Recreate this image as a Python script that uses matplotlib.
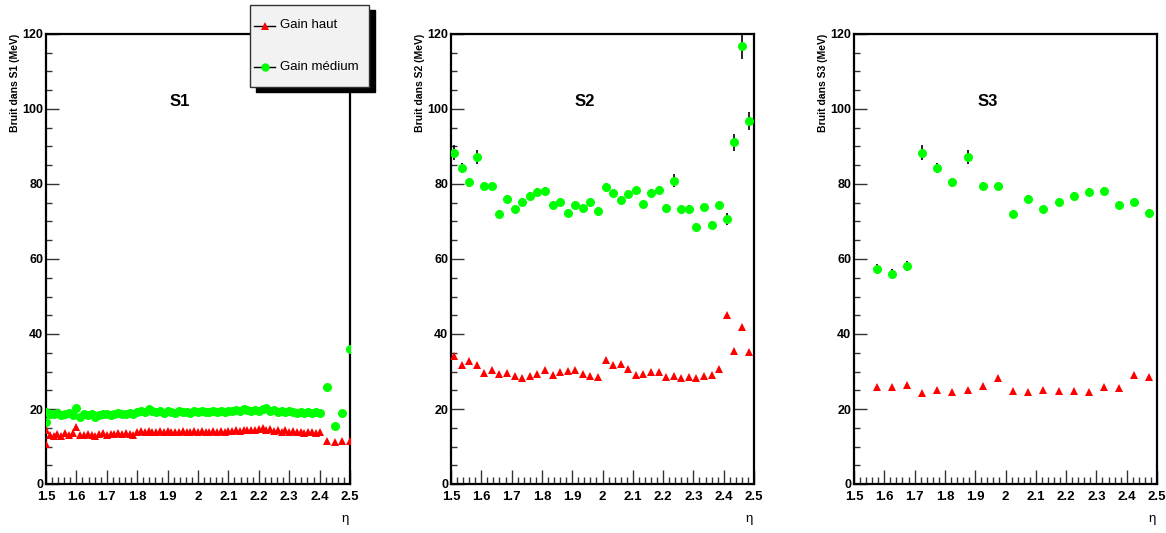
import matplotlib
matplotlib.use("Agg")
import matplotlib.pyplot as plt
from matplotlib.lines import Line2D
from matplotlib.patches import Rectangle
from matplotlib.ticker import MultipleLocator, FormatStrFormatter

plt.rcParams["font.family"] = ["Liberation Sans", "DejaVu Sans"]

# --- S1 : fine eta binning (first entry is the extra point at eta=1.5) ---
S1_ETA = [1.5,
          1.5, 1.5125, 1.525, 1.5375, 1.55, 1.5625, 1.575, 1.5875, 1.6, 1.6125,
          1.625, 1.6375, 1.65, 1.6625, 1.675, 1.6875, 1.7, 1.7125, 1.725, 1.7375,
          1.75, 1.7625, 1.775, 1.7875, 1.8, 1.8125, 1.825, 1.8375, 1.85, 1.8625,
          1.875, 1.8875, 1.9, 1.9125, 1.925, 1.9375, 1.95, 1.9625, 1.975, 1.9875,
          2.0, 2.0125, 2.025, 2.0375, 2.05, 2.0625, 2.075, 2.0875, 2.1, 2.1125,
          2.125, 2.1375, 2.15, 2.1625, 2.175, 2.1875, 2.2, 2.2125, 2.225, 2.2375,
          2.25, 2.2625, 2.275, 2.2875, 2.3, 2.3125, 2.325, 2.3375, 2.35, 2.3625,
          2.375, 2.3875, 2.4,
          2.425, 2.45, 2.475, 2.5]
S1_HAUT = [10.6,
           14.5, 13.2, 12.8, 13.4, 12.9, 13.5, 13.1, 13.6, 15.3, 13.2,
           13.0, 13.4, 13.1, 12.9, 13.3, 13.5, 13.2, 13.4, 13.3, 13.6,
           13.3, 13.5, 13.4, 13.2, 13.9, 14.1, 13.8, 14.2, 14.0, 13.9,
           14.2, 13.8, 14.1, 13.9, 14.0, 13.8, 14.1, 14.0, 13.9, 14.2,
           14.0, 14.1, 13.9, 14.0, 14.2, 13.9, 14.1, 14.0, 14.2, 14.1,
           14.3, 14.2, 14.4, 14.3, 14.5, 14.4, 14.6, 14.9, 14.5, 14.7,
           14.2, 14.4, 14.0, 14.3, 13.9, 14.1, 13.8, 13.9, 13.7, 13.9,
           13.8, 13.6, 13.8,
           11.5, 11.3, 11.5, 11.6]
S1_MED = [16.5,
          19.2, 18.8, 18.6, 18.9, 18.5, 18.8, 19.0, 18.4, 20.3, 17.9,
          18.6, 18.3, 18.7, 17.9, 18.4, 18.6, 18.8, 18.5, 18.7, 18.9,
          18.6, 18.8, 19.0, 18.7, 19.2, 19.4, 19.1, 20.1, 19.6, 19.3,
          19.5, 19.0, 19.4, 19.2, 18.9, 19.5, 19.1, 19.3, 19.0, 19.4,
          19.2, 19.6, 19.3, 19.1, 19.4, 19.2, 19.5, 19.3, 19.6, 19.4,
          19.8, 19.5, 20.1, 19.7, 19.5, 19.8, 19.6, 19.9, 20.2, 19.6,
          19.8, 19.3, 19.5, 19.2, 19.6, 19.1, 19.0, 19.3, 18.9, 19.2,
          19.0, 19.1, 18.9,
          26.0, 15.6, 18.9, 36.0]

# --- S2 ---
S2_ETA = [1.51, 1.535, 1.56, 1.585, 1.61, 1.635, 1.66, 1.685, 1.71, 1.735,
          1.76, 1.785, 1.81, 1.835, 1.86, 1.885, 1.91, 1.935, 1.96, 1.985,
          2.01, 2.035, 2.06, 2.085, 2.11, 2.135, 2.16, 2.185, 2.21, 2.235,
          2.26, 2.285, 2.31, 2.335, 2.36, 2.385, 2.41, 2.435, 2.46, 2.485]
S2_HAUT = [34.2, 31.8, 32.7, 31.8, 29.6, 30.4, 29.4, 29.6, 28.8, 28.4,
           28.9, 29.4, 30.4, 29.0, 29.8, 30.1, 30.3, 29.4, 28.8, 28.6,
           33.1, 31.8, 32.0, 30.6, 29.2, 29.4, 29.8, 29.8, 28.6, 28.8,
           28.3, 28.6, 28.2, 28.7, 29.2, 30.7, 45.1, 35.6, 42.0, 35.3]
S2_MED = [88.3, 84.3, 80.4, 87.2, 79.4, 79.4, 72.1, 76.1, 73.2, 75.3,
          76.8, 77.9, 78.2, 74.5, 75.3, 72.3, 74.4, 73.6, 75.3, 72.9,
          79.3, 77.5, 75.7, 77.3, 78.3, 74.6, 77.6, 78.5, 73.6, 80.9,
          73.2, 73.4, 68.5, 73.8, 69.0, 74.5, 70.6, 91.1, 116.7, 96.7]
S2_MED_ERR = [2.0, 1.3, 1.2, 1.8, 1.0, 1.0, 1.0, 1.0, 1.0, 1.0,
              1.0, 1.0, 1.0, 1.0, 1.0, 1.0, 1.0, 1.0, 1.0, 1.0,
              1.0, 1.0, 1.0, 1.0, 1.0, 1.0, 1.0, 1.0, 1.0, 1.7,
              1.0, 1.0, 1.0, 1.0, 1.0, 1.0, 1.6, 2.3, 3.5, 2.4]

# --- S3 ---
S3_ETA = [1.575, 1.625, 1.675, 1.725, 1.775, 1.825, 1.875, 1.925, 1.975, 2.025,
          2.075, 2.125, 2.175, 2.225, 2.275, 2.325, 2.375, 2.425, 2.475]
S3_HAUT = [26.0, 25.8, 26.3, 24.2, 25.0, 24.6, 25.0, 26.1, 28.2, 24.7,
           24.5, 25.0, 24.7, 24.8, 24.6, 25.9, 25.6, 29.2, 28.5]
S3_MED = [57.4, 56.0, 58.2, 88.3, 84.3, 80.4, 87.2, 79.4, 79.4, 72.1,
          76.1, 73.2, 75.3, 76.8, 77.9, 78.2, 74.5, 75.3, 72.3]
S3_MED_ERR = [1.3, 1.3, 1.3, 2.0, 1.3, 1.2, 1.8, 1.0, 1.0, 1.0,
              1.0, 1.0, 1.0, 1.0, 1.0, 1.0, 1.0, 1.0, 1.0]

RED = "#ff0000"
GREEN = "#00ff00"
W, H = 1166, 533


def px_rect(x0, y0, x1, y1):
    # pixel box (top-left origin) -> figure fraction [left, bottom, w, h]
    return [x0 / W, 1 - y1 / H, (x1 - x0) / W, (y1 - y0) / H]


def style(ax, name):
    ax.set_xlim(1.5, 2.5)
    ax.set_ylim(0, 120)
    ax.xaxis.set_major_locator(MultipleLocator(0.1))
    ax.xaxis.set_minor_locator(MultipleLocator(0.02))
    ax.yaxis.set_major_locator(MultipleLocator(20))
    ax.yaxis.set_minor_locator(MultipleLocator(5))
    ax.xaxis.set_major_formatter(FormatStrFormatter("%g"))
    ax.tick_params(which="both", direction="in", top=False, right=False,
                   color="#333333", width=1.0)
    ax.tick_params(axis="x", which="major", length=10, pad=5)
    ax.tick_params(axis="x", which="minor", length=5)
    ax.tick_params(axis="y", which="major", length=9, pad=2)
    ax.tick_params(axis="y", which="minor", length=4.5)
    for lab in ax.get_xticklabels():
        lab.set_fontweight("bold")
        lab.set_fontsize(9.5)
    for lab in ax.get_yticklabels():
        lab.set_fontweight("bold")
        lab.set_fontsize(9)
    for sp in ax.spines.values():
        sp.set_linewidth(1.6)
    ax.set_ylabel(f"Bruit dans {name} (MeV)", fontsize=7.5, fontweight="bold",
                  loc="top")
    ax.yaxis.set_label_coords(-0.085, 1.0)
    ax.set_xlabel("η", fontsize=9.5, loc="right")
    ax.xaxis.set_label_coords(0.995, -0.065)
    ax.text(0.44, 0.85, name, transform=ax.transAxes, fontsize=12,
            fontweight="bold", ha="center", va="center")


fig = plt.figure(figsize=(W / 100, H / 100), dpi=100)
ax1 = fig.add_axes(px_rect(46, 34, 350, 484))
ax2 = fig.add_axes(px_rect(451, 34, 754, 484))
ax3 = fig.add_axes(px_rect(854, 34, 1157, 484))

ms_tri, ms_dot = 6, 6.5
ax1.plot(S1_ETA, S1_HAUT, "^", color=RED, ms=ms_tri, mew=0, zorder=3)
ax1.plot(S1_ETA, S1_MED, "o", color=GREEN, ms=ms_dot, mew=0, zorder=4)

ax2.plot(S2_ETA, S2_HAUT, "^", color=RED, ms=ms_tri, mew=0, zorder=3)
ax2.errorbar(S2_ETA, S2_MED, yerr=S2_MED_ERR, fmt="o", color=GREEN, ms=ms_dot,
             mew=0, ecolor="black", elinewidth=1.2, capsize=0, zorder=4)

ax3.plot(S3_ETA, S3_HAUT, "^", color=RED, ms=ms_tri, mew=0, zorder=3)
ax3.errorbar(S3_ETA, S3_MED, yerr=S3_MED_ERR, fmt="o", color=GREEN, ms=ms_dot,
             mew=0, ecolor="black", elinewidth=1.2, capsize=0, zorder=4)

for ax, name in ((ax1, "S1"), (ax2, "S2"), (ax3, "S3")):
    style(ax, name)

# ROOT-style legend box with drop shadow, drawn on top of panel 1
lx0, ly0, lx1, ly1 = 250, 5, 369, 87
sh = px_rect(lx0 + 6, ly0 + 5, lx1 + 6, ly1 + 5)
bx = px_rect(lx0, ly0, lx1, ly1)
fig.patches.append(Rectangle((sh[0], sh[1]), sh[2], sh[3],
                              transform=fig.transFigure, facecolor="black",
                              edgecolor="black", zorder=5))
fig.patches.append(Rectangle((bx[0], bx[1]), bx[2], bx[3],
                              transform=fig.transFigure, facecolor="#f2f2f2",
                              edgecolor="#333333", lw=1.0, zorder=6))
for ypx, mk, col, label in ((25.5, "^", RED, "Gain haut"),
                            (66.5, "o", GREEN, "Gain médium")):
    yf = 1 - ypx / H
    fig.lines.append(Line2D([254 / W, 275 / W], [yf, yf], color="black", lw=1.0,
                            transform=fig.transFigure, zorder=7))
    fig.lines.append(Line2D([265 / W], [yf], marker=mk, color=col, ms=6, mew=0,
                            transform=fig.transFigure, zorder=8))
    fig.text(280 / W, yf, label, fontsize=9.5, ha="left", va="center", zorder=9)

fig.savefig("out.png", dpi=100)
